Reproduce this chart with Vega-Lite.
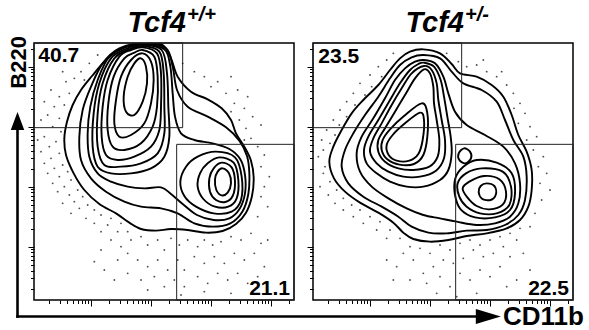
{
"$schema":"https://vega.github.io/schema/vega-lite/v6.json",
"background":"white",
"padding":{"left":7,"top":4,"right":0,"bottom":0},
"autosize":{"type":"pad"},
"data":{"values":[
{"t":"c","g":"+/+","k":"L1","i":0,"x":340,"y":792},{"t":"c","g":"+/+","k":"L1","i":1,"x":395,"y":785},{"t":"c","g":"+/+","k":"L1","i":2,"x":420,"y":745},{"t":"c","g":"+/+","k":"L1","i":3,"x":440,"y":690},{"t":"c","g":"+/+","k":"L1","i":4,"x":480,"y":645},{"t":"c","g":"+/+","k":"L1","i":5,"x":530,"y":622},{"t":"c","g":"+/+","k":"L1","i":6,"x":572,"y":595},{"t":"c","g":"+/+","k":"L1","i":7,"x":600,"y":560},{"t":"c","g":"+/+","k":"L1","i":8,"x":615,"y":520},{"t":"c","g":"+/+","k":"L1","i":9,"x":640,"y":480},{"t":"c","g":"+/+","k":"L1","i":10,"x":660,"y":438},{"t":"c","g":"+/+","k":"L1","i":11,"x":668,"y":388},{"t":"c","g":"+/+","k":"L1","i":12,"x":663,"y":332},{"t":"c","g":"+/+","k":"L1","i":13,"x":645,"y":282},{"t":"c","g":"+/+","k":"L1","i":14,"x":615,"y":248},{"t":"c","g":"+/+","k":"L1","i":15,"x":575,"y":227},{"t":"c","g":"+/+","k":"L1","i":16,"x":525,"y":222},{"t":"c","g":"+/+","k":"L1","i":17,"x":470,"y":230},{"t":"c","g":"+/+","k":"L1","i":18,"x":420,"y":233},{"t":"c","g":"+/+","k":"L1","i":19,"x":375,"y":228},{"t":"c","g":"+/+","k":"L1","i":20,"x":330,"y":233},{"t":"c","g":"+/+","k":"L1","i":21,"x":295,"y":252},{"t":"c","g":"+/+","k":"L1","i":22,"x":255,"y":280},{"t":"c","g":"+/+","k":"L1","i":23,"x":205,"y":308},{"t":"c","g":"+/+","k":"L1","i":24,"x":160,"y":350},{"t":"c","g":"+/+","k":"L1","i":25,"x":128,"y":400},{"t":"c","g":"+/+","k":"L1","i":26,"x":105,"y":455},{"t":"c","g":"+/+","k":"L1","i":27,"x":100,"y":505},{"t":"c","g":"+/+","k":"L1","i":28,"x":108,"y":555},{"t":"c","g":"+/+","k":"L1","i":29,"x":125,"y":605},{"t":"c","g":"+/+","k":"L1","i":30,"x":150,"y":650},{"t":"c","g":"+/+","k":"L1","i":31,"x":183,"y":692},{"t":"c","g":"+/+","k":"L1","i":32,"x":220,"y":735},{"t":"c","g":"+/+","k":"L1","i":33,"x":265,"y":772},{"t":"c","g":"+/+","k":"L1","i":34,"x":310,"y":788},
{"t":"c","g":"+/+","k":"L2","i":0,"x":335,"y":790},{"t":"c","g":"+/+","k":"L2","i":1,"x":405,"y":775},{"t":"c","g":"+/+","k":"L2","i":2,"x":425,"y":720},{"t":"c","g":"+/+","k":"L2","i":3,"x":438,"y":650},{"t":"c","g":"+/+","k":"L2","i":4,"x":470,"y":600},{"t":"c","g":"+/+","k":"L2","i":5,"x":530,"y":570},{"t":"c","g":"+/+","k":"L2","i":6,"x":585,"y":538},{"t":"c","g":"+/+","k":"L2","i":7,"x":625,"y":498},{"t":"c","g":"+/+","k":"L2","i":8,"x":648,"y":452},{"t":"c","g":"+/+","k":"L2","i":9,"x":655,"y":400},{"t":"c","g":"+/+","k":"L2","i":10,"x":652,"y":338},{"t":"c","g":"+/+","k":"L2","i":11,"x":634,"y":285},{"t":"c","g":"+/+","k":"L2","i":12,"x":598,"y":250},{"t":"c","g":"+/+","k":"L2","i":13,"x":545,"y":240},{"t":"c","g":"+/+","k":"L2","i":14,"x":490,"y":250},{"t":"c","g":"+/+","k":"L2","i":15,"x":440,"y":280},{"t":"c","g":"+/+","k":"L2","i":16,"x":390,"y":295},{"t":"c","g":"+/+","k":"L2","i":17,"x":330,"y":300},{"t":"c","g":"+/+","k":"L2","i":18,"x":280,"y":315},{"t":"c","g":"+/+","k":"L2","i":19,"x":225,"y":345},{"t":"c","g":"+/+","k":"L2","i":20,"x":180,"y":385},{"t":"c","g":"+/+","k":"L2","i":21,"x":150,"y":440},{"t":"c","g":"+/+","k":"L2","i":22,"x":145,"y":510},{"t":"c","g":"+/+","k":"L2","i":23,"x":155,"y":590},{"t":"c","g":"+/+","k":"L2","i":24,"x":180,"y":660},{"t":"c","g":"+/+","k":"L2","i":25,"x":215,"y":730},{"t":"c","g":"+/+","k":"L2","i":26,"x":265,"y":775},
{"t":"c","g":"+/+","k":"L3","i":0,"x":335,"y":788},{"t":"c","g":"+/+","k":"L3","i":1,"x":400,"y":772},{"t":"c","g":"+/+","k":"L3","i":2,"x":418,"y":720},{"t":"c","g":"+/+","k":"L3","i":3,"x":425,"y":640},{"t":"c","g":"+/+","k":"L3","i":4,"x":432,"y":570},{"t":"c","g":"+/+","k":"L3","i":5,"x":450,"y":520},{"t":"c","g":"+/+","k":"L3","i":6,"x":490,"y":500},{"t":"c","g":"+/+","k":"L3","i":7,"x":545,"y":490},{"t":"c","g":"+/+","k":"L3","i":8,"x":595,"y":473},{"t":"c","g":"+/+","k":"L3","i":9,"x":628,"y":442},{"t":"c","g":"+/+","k":"L3","i":10,"x":642,"y":395},{"t":"c","g":"+/+","k":"L3","i":11,"x":642,"y":340},{"t":"c","g":"+/+","k":"L3","i":12,"x":625,"y":292},{"t":"c","g":"+/+","k":"L3","i":13,"x":595,"y":265},{"t":"c","g":"+/+","k":"L3","i":14,"x":548,"y":260},{"t":"c","g":"+/+","k":"L3","i":15,"x":498,"y":275},{"t":"c","g":"+/+","k":"L3","i":16,"x":455,"y":308},{"t":"c","g":"+/+","k":"L3","i":17,"x":420,"y":338},{"t":"c","g":"+/+","k":"L3","i":18,"x":390,"y":358},{"t":"c","g":"+/+","k":"L3","i":19,"x":340,"y":355},{"t":"c","g":"+/+","k":"L3","i":20,"x":290,"y":360},{"t":"c","g":"+/+","k":"L3","i":21,"x":240,"y":375},{"t":"c","g":"+/+","k":"L3","i":22,"x":200,"y":400},{"t":"c","g":"+/+","k":"L3","i":23,"x":175,"y":450},{"t":"c","g":"+/+","k":"L3","i":24,"x":170,"y":520},{"t":"c","g":"+/+","k":"L3","i":25,"x":178,"y":600},{"t":"c","g":"+/+","k":"L3","i":26,"x":200,"y":680},{"t":"c","g":"+/+","k":"L3","i":27,"x":235,"y":750},{"t":"c","g":"+/+","k":"L3","i":28,"x":290,"y":780},
{"t":"c","g":"+/+","k":"F","i":0,"x":335,"y":786},{"t":"c","g":"+/+","k":"F","i":1,"x":392,"y":770},{"t":"c","g":"+/+","k":"F","i":2,"x":408,"y":700},{"t":"c","g":"+/+","k":"F","i":3,"x":412,"y":600},{"t":"c","g":"+/+","k":"F","i":4,"x":415,"y":510},{"t":"c","g":"+/+","k":"F","i":5,"x":400,"y":450},{"t":"c","g":"+/+","k":"F","i":6,"x":360,"y":415},{"t":"c","g":"+/+","k":"F","i":7,"x":300,"y":400},{"t":"c","g":"+/+","k":"F","i":8,"x":240,"y":400},{"t":"c","g":"+/+","k":"F","i":9,"x":200,"y":420},{"t":"c","g":"+/+","k":"F","i":10,"x":185,"y":480},{"t":"c","g":"+/+","k":"F","i":11,"x":188,"y":580},{"t":"c","g":"+/+","k":"F","i":12,"x":205,"y":670},{"t":"c","g":"+/+","k":"F","i":13,"x":240,"y":745},{"t":"c","g":"+/+","k":"F","i":14,"x":290,"y":775},
{"t":"c","g":"+/+","k":"E","i":0,"x":335,"y":782},{"t":"c","g":"+/+","k":"E","i":1,"x":385,"y":765},{"t":"c","g":"+/+","k":"E","i":2,"x":398,"y":700},{"t":"c","g":"+/+","k":"E","i":3,"x":400,"y":600},{"t":"c","g":"+/+","k":"E","i":4,"x":400,"y":520},{"t":"c","g":"+/+","k":"E","i":5,"x":380,"y":460},{"t":"c","g":"+/+","k":"E","i":6,"x":330,"y":430},{"t":"c","g":"+/+","k":"E","i":7,"x":270,"y":420},{"t":"c","g":"+/+","k":"E","i":8,"x":220,"y":425},{"t":"c","g":"+/+","k":"E","i":9,"x":200,"y":480},{"t":"c","g":"+/+","k":"E","i":10,"x":200,"y":580},{"t":"c","g":"+/+","k":"E","i":11,"x":215,"y":670},{"t":"c","g":"+/+","k":"E","i":12,"x":250,"y":745},{"t":"c","g":"+/+","k":"E","i":13,"x":295,"y":772},
{"t":"c","g":"+/+","k":"D","i":0,"x":335,"y":778},{"t":"c","g":"+/+","k":"D","i":1,"x":378,"y":760},{"t":"c","g":"+/+","k":"D","i":2,"x":390,"y":700},{"t":"c","g":"+/+","k":"D","i":3,"x":390,"y":600},{"t":"c","g":"+/+","k":"D","i":4,"x":385,"y":530},{"t":"c","g":"+/+","k":"D","i":5,"x":360,"y":480},{"t":"c","g":"+/+","k":"D","i":6,"x":310,"y":450},{"t":"c","g":"+/+","k":"D","i":7,"x":260,"y":440},{"t":"c","g":"+/+","k":"D","i":8,"x":225,"y":455},{"t":"c","g":"+/+","k":"D","i":9,"x":212,"y":510},{"t":"c","g":"+/+","k":"D","i":10,"x":215,"y":600},{"t":"c","g":"+/+","k":"D","i":11,"x":230,"y":680},{"t":"c","g":"+/+","k":"D","i":12,"x":265,"y":750},{"t":"c","g":"+/+","k":"D","i":13,"x":300,"y":770},
{"t":"c","g":"+/+","k":"C","i":0,"x":335,"y":770},{"t":"c","g":"+/+","k":"C","i":1,"x":370,"y":750},{"t":"c","g":"+/+","k":"C","i":2,"x":380,"y":690},{"t":"c","g":"+/+","k":"C","i":3,"x":378,"y":600},{"t":"c","g":"+/+","k":"C","i":4,"x":365,"y":540},{"t":"c","g":"+/+","k":"C","i":5,"x":330,"y":490},{"t":"c","g":"+/+","k":"C","i":6,"x":280,"y":470},{"t":"c","g":"+/+","k":"C","i":7,"x":245,"y":480},{"t":"c","g":"+/+","k":"C","i":8,"x":230,"y":530},{"t":"c","g":"+/+","k":"C","i":9,"x":232,"y":610},{"t":"c","g":"+/+","k":"C","i":10,"x":248,"y":690},{"t":"c","g":"+/+","k":"C","i":11,"x":280,"y":745},{"t":"c","g":"+/+","k":"C","i":12,"x":310,"y":762},
{"t":"c","g":"+/+","k":"B","i":0,"x":335,"y":760},{"t":"c","g":"+/+","k":"B","i":1,"x":360,"y":735},{"t":"c","g":"+/+","k":"B","i":2,"x":368,"y":680},{"t":"c","g":"+/+","k":"B","i":3,"x":360,"y":610},{"t":"c","g":"+/+","k":"B","i":4,"x":340,"y":550},{"t":"c","g":"+/+","k":"B","i":5,"x":300,"y":515},{"t":"c","g":"+/+","k":"B","i":6,"x":265,"y":510},{"t":"c","g":"+/+","k":"B","i":7,"x":250,"y":550},{"t":"c","g":"+/+","k":"B","i":8,"x":255,"y":620},{"t":"c","g":"+/+","k":"B","i":9,"x":270,"y":690},{"t":"c","g":"+/+","k":"B","i":10,"x":300,"y":740},
{"t":"c","g":"+/+","k":"A","i":0,"x":330,"y":745},{"t":"c","g":"+/+","k":"A","i":1,"x":345,"y":720},{"t":"c","g":"+/+","k":"A","i":2,"x":348,"y":670},{"t":"c","g":"+/+","k":"A","i":3,"x":335,"y":615},{"t":"c","g":"+/+","k":"A","i":4,"x":310,"y":575},{"t":"c","g":"+/+","k":"A","i":5,"x":285,"y":585},{"t":"c","g":"+/+","k":"A","i":6,"x":278,"y":630},{"t":"c","g":"+/+","k":"A","i":7,"x":290,"y":690},{"t":"c","g":"+/+","k":"A","i":8,"x":310,"y":730},
{"t":"c","g":"+/+","k":"pa","i":0,"x":575,"y":415},{"t":"c","g":"+/+","k":"pa","i":1,"x":594,"y":400},{"t":"c","g":"+/+","k":"pa","i":2,"x":600,"y":370},{"t":"c","g":"+/+","k":"pa","i":3,"x":590,"y":342},{"t":"c","g":"+/+","k":"pa","i":4,"x":572,"y":334},{"t":"c","g":"+/+","k":"pa","i":5,"x":556,"y":350},{"t":"c","g":"+/+","k":"pa","i":6,"x":552,"y":382},{"t":"c","g":"+/+","k":"pa","i":7,"x":560,"y":405},
{"t":"c","g":"+/+","k":"pb","i":0,"x":572,"y":432},{"t":"c","g":"+/+","k":"pb","i":1,"x":602,"y":418},{"t":"c","g":"+/+","k":"pb","i":2,"x":612,"y":375},{"t":"c","g":"+/+","k":"pb","i":3,"x":605,"y":332},{"t":"c","g":"+/+","k":"pb","i":4,"x":583,"y":314},{"t":"c","g":"+/+","k":"pb","i":5,"x":555,"y":320},{"t":"c","g":"+/+","k":"pb","i":6,"x":537,"y":345},{"t":"c","g":"+/+","k":"pb","i":7,"x":535,"y":385},{"t":"c","g":"+/+","k":"pb","i":8,"x":548,"y":415},
{"t":"c","g":"+/+","k":"pc","i":0,"x":565,"y":448},{"t":"c","g":"+/+","k":"pc","i":1,"x":608,"y":432},{"t":"c","g":"+/+","k":"pc","i":2,"x":622,"y":380},{"t":"c","g":"+/+","k":"pc","i":3,"x":617,"y":325},{"t":"c","g":"+/+","k":"pc","i":4,"x":592,"y":300},{"t":"c","g":"+/+","k":"pc","i":5,"x":552,"y":300},{"t":"c","g":"+/+","k":"pc","i":6,"x":517,"y":323},{"t":"c","g":"+/+","k":"pc","i":7,"x":500,"y":360},{"t":"c","g":"+/+","k":"pc","i":8,"x":507,"y":400},{"t":"c","g":"+/+","k":"pc","i":9,"x":530,"y":430},
{"t":"c","g":"+/+","k":"pd","i":0,"x":555,"y":465},{"t":"c","g":"+/+","k":"pd","i":1,"x":612,"y":448},{"t":"c","g":"+/+","k":"pd","i":2,"x":632,"y":390},{"t":"c","g":"+/+","k":"pd","i":3,"x":630,"y":320},{"t":"c","g":"+/+","k":"pd","i":4,"x":602,"y":285},{"t":"c","g":"+/+","k":"pd","i":5,"x":548,"y":280},{"t":"c","g":"+/+","k":"pd","i":6,"x":495,"y":300},{"t":"c","g":"+/+","k":"pd","i":7,"x":460,"y":332},{"t":"c","g":"+/+","k":"pd","i":8,"x":448,"y":375},{"t":"c","g":"+/+","k":"pd","i":9,"x":465,"y":420},{"t":"c","g":"+/+","k":"pd","i":10,"x":500,"y":450},
{"t":"c","g":"+/-","k":"L1","i":0,"x":340,"y":772},{"t":"c","g":"+/-","k":"L1","i":1,"x":390,"y":760},{"t":"c","g":"+/-","k":"L1","i":2,"x":425,"y":728},{"t":"c","g":"+/-","k":"L1","i":3,"x":450,"y":700},{"t":"c","g":"+/-","k":"L1","i":4,"x":500,"y":690},{"t":"c","g":"+/-","k":"L1","i":5,"x":545,"y":665},{"t":"c","g":"+/-","k":"L1","i":6,"x":580,"y":630},{"t":"c","g":"+/-","k":"L1","i":7,"x":605,"y":575},{"t":"c","g":"+/-","k":"L1","i":8,"x":625,"y":515},{"t":"c","g":"+/-","k":"L1","i":9,"x":650,"y":465},{"t":"c","g":"+/-","k":"L1","i":10,"x":665,"y":410},{"t":"c","g":"+/-","k":"L1","i":11,"x":665,"y":350},{"t":"c","g":"+/-","k":"L1","i":12,"x":655,"y":300},{"t":"c","g":"+/-","k":"L1","i":13,"x":630,"y":260},{"t":"c","g":"+/-","k":"L1","i":14,"x":590,"y":235},{"t":"c","g":"+/-","k":"L1","i":15,"x":530,"y":220},{"t":"c","g":"+/-","k":"L1","i":16,"x":470,"y":212},{"t":"c","g":"+/-","k":"L1","i":17,"x":415,"y":200},{"t":"c","g":"+/-","k":"L1","i":18,"x":360,"y":195},{"t":"c","g":"+/-","k":"L1","i":19,"x":310,"y":203},{"t":"c","g":"+/-","k":"L1","i":20,"x":280,"y":222},{"t":"c","g":"+/-","k":"L1","i":21,"x":250,"y":252},{"t":"c","g":"+/-","k":"L1","i":22,"x":205,"y":282},{"t":"c","g":"+/-","k":"L1","i":23,"x":150,"y":312},{"t":"c","g":"+/-","k":"L1","i":24,"x":105,"y":345},{"t":"c","g":"+/-","k":"L1","i":25,"x":72,"y":385},{"t":"c","g":"+/-","k":"L1","i":26,"x":58,"y":435},{"t":"c","g":"+/-","k":"L1","i":27,"x":70,"y":480},{"t":"c","g":"+/-","k":"L1","i":28,"x":95,"y":530},{"t":"c","g":"+/-","k":"L1","i":29,"x":125,"y":580},{"t":"c","g":"+/-","k":"L1","i":30,"x":160,"y":620},{"t":"c","g":"+/-","k":"L1","i":31,"x":205,"y":665},{"t":"c","g":"+/-","k":"L1","i":32,"x":240,"y":710},{"t":"c","g":"+/-","k":"L1","i":33,"x":270,"y":745},{"t":"c","g":"+/-","k":"L1","i":34,"x":300,"y":765},
{"t":"c","g":"+/-","k":"L2","i":0,"x":340,"y":755},{"t":"c","g":"+/-","k":"L2","i":1,"x":390,"y":745},{"t":"c","g":"+/-","k":"L2","i":2,"x":425,"y":705},{"t":"c","g":"+/-","k":"L2","i":3,"x":460,"y":670},{"t":"c","g":"+/-","k":"L2","i":4,"x":515,"y":650},{"t":"c","g":"+/-","k":"L2","i":5,"x":560,"y":615},{"t":"c","g":"+/-","k":"L2","i":6,"x":585,"y":560},{"t":"c","g":"+/-","k":"L2","i":7,"x":610,"y":500},{"t":"c","g":"+/-","k":"L2","i":8,"x":640,"y":450},{"t":"c","g":"+/-","k":"L2","i":9,"x":650,"y":390},{"t":"c","g":"+/-","k":"L2","i":10,"x":645,"y":320},{"t":"c","g":"+/-","k":"L2","i":11,"x":625,"y":275},{"t":"c","g":"+/-","k":"L2","i":12,"x":585,"y":245},{"t":"c","g":"+/-","k":"L2","i":13,"x":530,"y":230},{"t":"c","g":"+/-","k":"L2","i":14,"x":470,"y":228},{"t":"c","g":"+/-","k":"L2","i":15,"x":410,"y":220},{"t":"c","g":"+/-","k":"L2","i":16,"x":355,"y":222},{"t":"c","g":"+/-","k":"L2","i":17,"x":305,"y":240},{"t":"c","g":"+/-","k":"L2","i":18,"x":265,"y":270},{"t":"c","g":"+/-","k":"L2","i":19,"x":215,"y":300},{"t":"c","g":"+/-","k":"L2","i":20,"x":160,"y":330},{"t":"c","g":"+/-","k":"L2","i":21,"x":115,"y":370},{"t":"c","g":"+/-","k":"L2","i":22,"x":95,"y":420},{"t":"c","g":"+/-","k":"L2","i":23,"x":105,"y":470},{"t":"c","g":"+/-","k":"L2","i":24,"x":130,"y":520},{"t":"c","g":"+/-","k":"L2","i":25,"x":165,"y":575},{"t":"c","g":"+/-","k":"L2","i":26,"x":205,"y":630},{"t":"c","g":"+/-","k":"L2","i":27,"x":240,"y":685},{"t":"c","g":"+/-","k":"L2","i":28,"x":270,"y":725},{"t":"c","g":"+/-","k":"L2","i":29,"x":305,"y":748},
{"t":"c","g":"+/-","k":"L3","i":0,"x":340,"y":740},{"t":"c","g":"+/-","k":"L3","i":1,"x":375,"y":730},{"t":"c","g":"+/-","k":"L3","i":2,"x":400,"y":690},{"t":"c","g":"+/-","k":"L3","i":3,"x":415,"y":640},{"t":"c","g":"+/-","k":"L3","i":4,"x":435,"y":585},{"t":"c","g":"+/-","k":"L3","i":5,"x":470,"y":545},{"t":"c","g":"+/-","k":"L3","i":6,"x":525,"y":515},{"t":"c","g":"+/-","k":"L3","i":7,"x":580,"y":480},{"t":"c","g":"+/-","k":"L3","i":8,"x":615,"y":430},{"t":"c","g":"+/-","k":"L3","i":9,"x":630,"y":370},{"t":"c","g":"+/-","k":"L3","i":10,"x":625,"y":310},{"t":"c","g":"+/-","k":"L3","i":11,"x":600,"y":270},{"t":"c","g":"+/-","k":"L3","i":12,"x":555,"y":250},{"t":"c","g":"+/-","k":"L3","i":13,"x":500,"y":245},{"t":"c","g":"+/-","k":"L3","i":14,"x":440,"y":255},{"t":"c","g":"+/-","k":"L3","i":15,"x":390,"y":265},{"t":"c","g":"+/-","k":"L3","i":16,"x":340,"y":275},{"t":"c","g":"+/-","k":"L3","i":17,"x":290,"y":295},{"t":"c","g":"+/-","k":"L3","i":18,"x":235,"y":325},{"t":"c","g":"+/-","k":"L3","i":19,"x":185,"y":360},{"t":"c","g":"+/-","k":"L3","i":20,"x":150,"y":405},{"t":"c","g":"+/-","k":"L3","i":21,"x":140,"y":460},{"t":"c","g":"+/-","k":"L3","i":22,"x":155,"y":510},{"t":"c","g":"+/-","k":"L3","i":23,"x":190,"y":565},{"t":"c","g":"+/-","k":"L3","i":24,"x":225,"y":625},{"t":"c","g":"+/-","k":"L3","i":25,"x":255,"y":680},{"t":"c","g":"+/-","k":"L3","i":26,"x":285,"y":715},{"t":"c","g":"+/-","k":"L3","i":27,"x":315,"y":735},
{"t":"c","g":"+/-","k":"L4","i":0,"x":342,"y":732},{"t":"c","g":"+/-","k":"L4","i":1,"x":372,"y":720},{"t":"c","g":"+/-","k":"L4","i":2,"x":392,"y":680},{"t":"c","g":"+/-","k":"L4","i":3,"x":402,"y":630},{"t":"c","g":"+/-","k":"L4","i":4,"x":412,"y":570},{"t":"c","g":"+/-","k":"L4","i":5,"x":422,"y":510},{"t":"c","g":"+/-","k":"L4","i":6,"x":425,"y":460},{"t":"c","g":"+/-","k":"L4","i":7,"x":415,"y":410},{"t":"c","g":"+/-","k":"L4","i":8,"x":390,"y":380},{"t":"c","g":"+/-","k":"L4","i":9,"x":340,"y":360},{"t":"c","g":"+/-","k":"L4","i":10,"x":290,"y":360},{"t":"c","g":"+/-","k":"L4","i":11,"x":240,"y":375},{"t":"c","g":"+/-","k":"L4","i":12,"x":200,"y":400},{"t":"c","g":"+/-","k":"L4","i":13,"x":170,"y":430},{"t":"c","g":"+/-","k":"L4","i":14,"x":162,"y":470},{"t":"c","g":"+/-","k":"L4","i":15,"x":175,"y":510},{"t":"c","g":"+/-","k":"L4","i":16,"x":205,"y":560},{"t":"c","g":"+/-","k":"L4","i":17,"x":240,"y":620},{"t":"c","g":"+/-","k":"L4","i":18,"x":270,"y":670},{"t":"c","g":"+/-","k":"L4","i":19,"x":300,"y":710},{"t":"c","g":"+/-","k":"L4","i":20,"x":325,"y":728},
{"t":"c","g":"+/-","k":"L5","i":0,"x":342,"y":722},{"t":"c","g":"+/-","k":"L5","i":1,"x":365,"y":710},{"t":"c","g":"+/-","k":"L5","i":2,"x":380,"y":670},{"t":"c","g":"+/-","k":"L5","i":3,"x":385,"y":620},{"t":"c","g":"+/-","k":"L5","i":4,"x":395,"y":560},{"t":"c","g":"+/-","k":"L5","i":5,"x":405,"y":500},{"t":"c","g":"+/-","k":"L5","i":6,"x":402,"y":445},{"t":"c","g":"+/-","k":"L5","i":7,"x":378,"y":408},{"t":"c","g":"+/-","k":"L5","i":8,"x":330,"y":390},{"t":"c","g":"+/-","k":"L5","i":9,"x":280,"y":390},{"t":"c","g":"+/-","k":"L5","i":10,"x":235,"y":405},{"t":"c","g":"+/-","k":"L5","i":11,"x":200,"y":430},{"t":"c","g":"+/-","k":"L5","i":12,"x":180,"y":465},{"t":"c","g":"+/-","k":"L5","i":13,"x":190,"y":505},{"t":"c","g":"+/-","k":"L5","i":14,"x":215,"y":550},{"t":"c","g":"+/-","k":"L5","i":15,"x":245,"y":605},{"t":"c","g":"+/-","k":"L5","i":16,"x":275,"y":655},{"t":"c","g":"+/-","k":"L5","i":17,"x":305,"y":700},
{"t":"c","g":"+/-","k":"L6","i":0,"x":342,"y":712},{"t":"c","g":"+/-","k":"L6","i":1,"x":360,"y":700},{"t":"c","g":"+/-","k":"L6","i":2,"x":370,"y":660},{"t":"c","g":"+/-","k":"L6","i":3,"x":372,"y":610},{"t":"c","g":"+/-","k":"L6","i":4,"x":380,"y":560},{"t":"c","g":"+/-","k":"L6","i":5,"x":388,"y":500},{"t":"c","g":"+/-","k":"L6","i":6,"x":383,"y":450},{"t":"c","g":"+/-","k":"L6","i":7,"x":358,"y":420},{"t":"c","g":"+/-","k":"L6","i":8,"x":310,"y":410},{"t":"c","g":"+/-","k":"L6","i":9,"x":265,"y":415},{"t":"c","g":"+/-","k":"L6","i":10,"x":225,"y":435},{"t":"c","g":"+/-","k":"L6","i":11,"x":205,"y":465},{"t":"c","g":"+/-","k":"L6","i":12,"x":205,"y":500},{"t":"c","g":"+/-","k":"L6","i":13,"x":225,"y":535},{"t":"c","g":"+/-","k":"L6","i":14,"x":255,"y":585},{"t":"c","g":"+/-","k":"L6","i":15,"x":285,"y":635},{"t":"c","g":"+/-","k":"L6","i":16,"x":315,"y":685},
{"t":"c","g":"+/-","k":"r2","i":0,"x":335,"y":610},{"t":"c","g":"+/-","k":"r2","i":1,"x":352,"y":580},{"t":"c","g":"+/-","k":"r2","i":2,"x":352,"y":510},{"t":"c","g":"+/-","k":"r2","i":3,"x":340,"y":455},{"t":"c","g":"+/-","k":"r2","i":4,"x":312,"y":428},{"t":"c","g":"+/-","k":"r2","i":5,"x":268,"y":426},{"t":"c","g":"+/-","k":"r2","i":6,"x":232,"y":442},{"t":"c","g":"+/-","k":"r2","i":7,"x":215,"y":470},{"t":"c","g":"+/-","k":"r2","i":8,"x":218,"y":500},{"t":"c","g":"+/-","k":"r2","i":9,"x":240,"y":532},{"t":"c","g":"+/-","k":"r2","i":10,"x":282,"y":572},
{"t":"c","g":"+/-","k":"r1","i":0,"x":330,"y":582},{"t":"c","g":"+/-","k":"r1","i":1,"x":342,"y":560},{"t":"c","g":"+/-","k":"r1","i":2,"x":338,"y":500},{"t":"c","g":"+/-","k":"r1","i":3,"x":325,"y":458},{"t":"c","g":"+/-","k":"r1","i":4,"x":298,"y":438},{"t":"c","g":"+/-","k":"r1","i":5,"x":260,"y":438},{"t":"c","g":"+/-","k":"r1","i":6,"x":236,"y":455},{"t":"c","g":"+/-","k":"r1","i":7,"x":230,"y":485},{"t":"c","g":"+/-","k":"r1","i":8,"x":248,"y":515},{"t":"c","g":"+/-","k":"r1","i":9,"x":285,"y":550},
{"t":"c","g":"+/-","k":"s1","i":0,"x":530,"y":370},{"t":"c","g":"+/-","k":"s1","i":1,"x":553,"y":362},{"t":"c","g":"+/-","k":"s1","i":2,"x":558,"y":338},{"t":"c","g":"+/-","k":"s1","i":3,"x":542,"y":320},{"t":"c","g":"+/-","k":"s1","i":4,"x":516,"y":324},{"t":"c","g":"+/-","k":"s1","i":5,"x":506,"y":344},{"t":"c","g":"+/-","k":"s1","i":6,"x":512,"y":362},
{"t":"c","g":"+/-","k":"s2","i":0,"x":522,"y":392},{"t":"c","g":"+/-","k":"s2","i":1,"x":568,"y":382},{"t":"c","g":"+/-","k":"s2","i":2,"x":588,"y":345},{"t":"c","g":"+/-","k":"s2","i":3,"x":578,"y":306},{"t":"c","g":"+/-","k":"s2","i":4,"x":538,"y":292},{"t":"c","g":"+/-","k":"s2","i":5,"x":500,"y":302},{"t":"c","g":"+/-","k":"s2","i":6,"x":472,"y":328},{"t":"c","g":"+/-","k":"s2","i":7,"x":458,"y":355},{"t":"c","g":"+/-","k":"s2","i":8,"x":478,"y":375},
{"t":"c","g":"+/-","k":"s3","i":0,"x":515,"y":415},{"t":"c","g":"+/-","k":"s3","i":1,"x":578,"y":405},{"t":"c","g":"+/-","k":"s3","i":2,"x":603,"y":360},{"t":"c","g":"+/-","k":"s3","i":3,"x":598,"y":305},{"t":"c","g":"+/-","k":"s3","i":4,"x":560,"y":280},{"t":"c","g":"+/-","k":"s3","i":5,"x":510,"y":280},{"t":"c","g":"+/-","k":"s3","i":6,"x":470,"y":300},{"t":"c","g":"+/-","k":"s3","i":7,"x":448,"y":330},{"t":"c","g":"+/-","k":"s3","i":8,"x":443,"y":370},{"t":"c","g":"+/-","k":"s3","i":9,"x":468,"y":400},
{"t":"c","g":"+/-","k":"s4","i":0,"x":500,"y":440},{"t":"c","g":"+/-","k":"s4","i":1,"x":560,"y":432},{"t":"c","g":"+/-","k":"s4","i":2,"x":605,"y":400},{"t":"c","g":"+/-","k":"s4","i":3,"x":615,"y":340},{"t":"c","g":"+/-","k":"s4","i":4,"x":600,"y":290},{"t":"c","g":"+/-","k":"s4","i":5,"x":555,"y":268},{"t":"c","g":"+/-","k":"s4","i":6,"x":495,"y":268},{"t":"c","g":"+/-","k":"s4","i":7,"x":452,"y":292},{"t":"c","g":"+/-","k":"s4","i":8,"x":435,"y":335},{"t":"c","g":"+/-","k":"s4","i":9,"x":436,"y":385},{"t":"c","g":"+/-","k":"s4","i":10,"x":460,"y":420},
{"t":"c","g":"+/-","k":"t1","i":0,"x":462,"y":475},{"t":"c","g":"+/-","k":"t1","i":1,"x":480,"y":465},{"t":"c","g":"+/-","k":"t1","i":2,"x":483,"y":445},{"t":"c","g":"+/-","k":"t1","i":3,"x":466,"y":430},{"t":"c","g":"+/-","k":"t1","i":4,"x":448,"y":440},{"t":"c","g":"+/-","k":"t1","i":5,"x":446,"y":460},
{"t":"d","g":"+/+","x":200,"y":755},{"t":"d","g":"+/+","x":175,"y":730},{"t":"d","g":"+/+","x":150,"y":705},{"t":"d","g":"+/+","x":95,"y":705},{"t":"d","g":"+/+","x":130,"y":685},{"t":"d","g":"+/+","x":105,"y":675},{"t":"d","g":"+/+","x":160,"y":680},{"t":"d","g":"+/+","x":60,"y":650},{"t":"d","g":"+/+","x":115,"y":640},{"t":"d","g":"+/+","x":85,"y":630},{"t":"d","g":"+/+","x":40,"y":615},{"t":"d","g":"+/+","x":70,"y":600},{"t":"d","g":"+/+","x":100,"y":605},{"t":"d","g":"+/+","x":50,"y":575},{"t":"d","g":"+/+","x":85,"y":565},{"t":"d","g":"+/+","x":30,"y":560},{"t":"d","g":"+/+","x":65,"y":540},{"t":"d","g":"+/+","x":90,"y":525},{"t":"d","g":"+/+","x":40,"y":510},{"t":"d","g":"+/+","x":20,"y":500},{"t":"d","g":"+/+","x":75,"y":495},{"t":"d","g":"+/+","x":55,"y":480},{"t":"d","g":"+/+","x":30,"y":465},{"t":"d","g":"+/+","x":85,"y":460},{"t":"d","g":"+/+","x":60,"y":445},{"t":"d","g":"+/+","x":40,"y":430},{"t":"d","g":"+/+","x":95,"y":425},{"t":"d","g":"+/+","x":70,"y":415},{"t":"d","g":"+/+","x":110,"y":405},{"t":"d","g":"+/+","x":50,"y":400},{"t":"d","g":"+/+","x":85,"y":390},{"t":"d","g":"+/+","x":120,"y":380},{"t":"d","g":"+/+","x":65,"y":370},{"t":"d","g":"+/+","x":100,"y":360},{"t":"d","g":"+/+","x":140,"y":350},{"t":"d","g":"+/+","x":80,"y":345},{"t":"d","g":"+/+","x":115,"y":335},{"t":"d","g":"+/+","x":155,"y":330},{"t":"d","g":"+/+","x":130,"y":315},{"t":"d","g":"+/+","x":95,"y":310},{"t":"d","g":"+/+","x":170,"y":305},{"t":"d","g":"+/+","x":145,"y":295},{"t":"d","g":"+/+","x":190,"y":290},{"t":"d","g":"+/+","x":120,"y":280},{"t":"d","g":"+/+","x":210,"y":275},{"t":"d","g":"+/+","x":165,"y":265},{"t":"d","g":"+/+","x":240,"y":265},{"t":"d","g":"+/+","x":190,"y":250},{"t":"d","g":"+/+","x":230,"y":245},{"t":"d","g":"+/+","x":270,"y":250},{"t":"d","g":"+/+","x":210,"y":225},{"t":"d","g":"+/+","x":260,"y":225},{"t":"d","g":"+/+","x":290,"y":225},
{"t":"d","g":"+/+","x":455,"y":730},{"t":"d","g":"+/+","x":490,"y":705},{"t":"d","g":"+/+","x":520,"y":690},{"t":"d","g":"+/+","x":560,"y":675},{"t":"d","g":"+/+","x":540,"y":660},{"t":"d","g":"+/+","x":600,"y":690},{"t":"d","g":"+/+","x":620,"y":650},{"t":"d","g":"+/+","x":585,"y":640},{"t":"d","g":"+/+","x":650,"y":630},{"t":"d","g":"+/+","x":610,"y":610},{"t":"d","g":"+/+","x":640,"y":595},{"t":"d","g":"+/+","x":600,"y":585},{"t":"d","g":"+/+","x":625,"y":560},{"t":"d","g":"+/+","x":665,"y":570},{"t":"d","g":"+/+","x":645,"y":535},{"t":"d","g":"+/+","x":690,"y":545},{"t":"d","g":"+/+","x":660,"y":505},{"t":"d","g":"+/+","x":640,"y":500},{"t":"d","g":"+/+","x":680,"y":480},{"t":"d","g":"+/+","x":700,"y":455},{"t":"d","g":"+/+","x":690,"y":420},{"t":"d","g":"+/+","x":715,"y":390},{"t":"d","g":"+/+","x":700,"y":360},{"t":"d","g":"+/+","x":690,"y":330},{"t":"d","g":"+/+","x":710,"y":300},{"t":"d","g":"+/+","x":680,"y":270},
{"t":"d","g":"+/+","x":300,"y":200},{"t":"d","g":"+/+","x":330,"y":210},{"t":"d","g":"+/+","x":350,"y":185},{"t":"d","g":"+/+","x":380,"y":200},{"t":"d","g":"+/+","x":400,"y":170},{"t":"d","g":"+/+","x":420,"y":205},{"t":"d","g":"+/+","x":445,"y":185},{"t":"d","g":"+/+","x":470,"y":200},{"t":"d","g":"+/+","x":500,"y":180},{"t":"d","g":"+/+","x":520,"y":200},{"t":"d","g":"+/+","x":545,"y":185},{"t":"d","g":"+/+","x":570,"y":195},{"t":"d","g":"+/+","x":600,"y":210},{"t":"d","g":"+/+","x":630,"y":200},{"t":"d","g":"+/+","x":660,"y":220},{"t":"d","g":"+/+","x":690,"y":190},{"t":"d","g":"+/+","x":710,"y":200},{"t":"d","g":"+/+","x":270,"y":180},{"t":"d","g":"+/+","x":240,"y":200},{"t":"d","g":"+/+","x":210,"y":170},{"t":"d","g":"+/+","x":190,"y":135},{"t":"d","g":"+/+","x":260,"y":140},{"t":"d","g":"+/+","x":290,"y":160},{"t":"d","g":"+/+","x":320,"y":140},{"t":"d","g":"+/+","x":350,"y":120},{"t":"d","g":"+/+","x":380,"y":140},{"t":"d","g":"+/+","x":410,"y":110},{"t":"d","g":"+/+","x":440,"y":140},{"t":"d","g":"+/+","x":460,"y":110},{"t":"d","g":"+/+","x":490,"y":150},{"t":"d","g":"+/+","x":520,"y":130},{"t":"d","g":"+/+","x":550,"y":150},{"t":"d","g":"+/+","x":580,"y":130},{"t":"d","g":"+/+","x":610,"y":160},{"t":"d","g":"+/+","x":640,"y":140},{"t":"d","g":"+/+","x":670,"y":160},{"t":"d","g":"+/+","x":700,"y":120},{"t":"d","g":"+/+","x":290,"y":100},{"t":"d","g":"+/+","x":330,"y":80},{"t":"d","g":"+/+","x":370,"y":90},{"t":"d","g":"+/+","x":400,"y":60},{"t":"d","g":"+/+","x":430,"y":80},{"t":"d","g":"+/+","x":460,"y":60},{"t":"d","g":"+/+","x":500,"y":90},{"t":"d","g":"+/+","x":530,"y":70},{"t":"d","g":"+/+","x":560,"y":100},{"t":"d","g":"+/+","x":590,"y":80},{"t":"d","g":"+/+","x":620,"y":100},{"t":"d","g":"+/+","x":650,"y":70},{"t":"d","g":"+/+","x":680,"y":90},{"t":"d","g":"+/+","x":350,"y":50},{"t":"d","g":"+/+","x":450,"y":35},{"t":"d","g":"+/+","x":520,"y":45},{"t":"d","g":"+/+","x":600,"y":40},{"t":"d","g":"+/+","x":250,"y":80},{"t":"d","g":"+/+","x":220,"y":110},
{"t":"d","g":"+/-","x":230,"y":740},{"t":"d","g":"+/-","x":205,"y":720},{"t":"d","g":"+/-","x":250,"y":760},{"t":"d","g":"+/-","x":180,"y":695},{"t":"d","g":"+/-","x":215,"y":690},{"t":"d","g":"+/-","x":150,"y":670},{"t":"d","g":"+/-","x":185,"y":660},{"t":"d","g":"+/-","x":130,"y":640},{"t":"d","g":"+/-","x":165,"y":635},{"t":"d","g":"+/-","x":110,"y":615},{"t":"d","g":"+/-","x":135,"y":605},{"t":"d","g":"+/-","x":90,"y":590},{"t":"d","g":"+/-","x":110,"y":570},{"t":"d","g":"+/-","x":70,"y":560},{"t":"d","g":"+/-","x":88,"y":545},{"t":"d","g":"+/-","x":50,"y":530},{"t":"d","g":"+/-","x":75,"y":515},{"t":"d","g":"+/-","x":35,"y":500},{"t":"d","g":"+/-","x":60,"y":490},{"t":"d","g":"+/-","x":40,"y":470},{"t":"d","g":"+/-","x":25,"y":450},{"t":"d","g":"+/-","x":45,"y":420},
{"t":"d","g":"+/-","x":40,"y":400},{"t":"d","g":"+/-","x":60,"y":375},{"t":"d","g":"+/-","x":30,"y":360},{"t":"d","g":"+/-","x":80,"y":350},{"t":"d","g":"+/-","x":55,"y":335},{"t":"d","g":"+/-","x":100,"y":325},{"t":"d","g":"+/-","x":75,"y":310},{"t":"d","g":"+/-","x":125,"y":305},{"t":"d","g":"+/-","x":100,"y":290},{"t":"d","g":"+/-","x":150,"y":290},{"t":"d","g":"+/-","x":130,"y":270},{"t":"d","g":"+/-","x":180,"y":270},{"t":"d","g":"+/-","x":160,"y":250},{"t":"d","g":"+/-","x":210,"y":255},{"t":"d","g":"+/-","x":200,"y":230},{"t":"d","g":"+/-","x":240,"y":230},{"t":"d","g":"+/-","x":230,"y":205},{"t":"d","g":"+/-","x":270,"y":205},{"t":"d","g":"+/-","x":300,"y":180},
{"t":"d","g":"+/-","x":410,"y":760},{"t":"d","g":"+/-","x":445,"y":735},{"t":"d","g":"+/-","x":470,"y":720},{"t":"d","g":"+/-","x":500,"y":725},{"t":"d","g":"+/-","x":530,"y":705},{"t":"d","g":"+/-","x":560,"y":690},{"t":"d","g":"+/-","x":520,"y":740},{"t":"d","g":"+/-","x":590,"y":665},{"t":"d","g":"+/-","x":575,"y":705},{"t":"d","g":"+/-","x":610,"y":640},{"t":"d","g":"+/-","x":630,"y":610},{"t":"d","g":"+/-","x":612,"y":595},{"t":"d","g":"+/-","x":645,"y":580},{"t":"d","g":"+/-","x":625,"y":550},{"t":"d","g":"+/-","x":660,"y":540},{"t":"d","g":"+/-","x":650,"y":500},{"t":"d","g":"+/-","x":680,"y":510},{"t":"d","g":"+/-","x":670,"y":470},{"t":"d","g":"+/-","x":700,"y":450},{"t":"d","g":"+/-","x":685,"y":420},{"t":"d","g":"+/-","x":710,"y":400},{"t":"d","g":"+/-","x":690,"y":370},{"t":"d","g":"+/-","x":720,"y":350},{"t":"d","g":"+/-","x":695,"y":320},{"t":"d","g":"+/-","x":675,"y":280},
{"t":"d","g":"+/-","x":330,"y":175},{"t":"d","g":"+/-","x":360,"y":160},{"t":"d","g":"+/-","x":390,"y":185},{"t":"d","g":"+/-","x":420,"y":170},{"t":"d","g":"+/-","x":450,"y":190},{"t":"d","g":"+/-","x":480,"y":200},{"t":"d","g":"+/-","x":510,"y":185},{"t":"d","g":"+/-","x":540,"y":200},{"t":"d","g":"+/-","x":570,"y":210},{"t":"d","g":"+/-","x":600,"y":220},{"t":"d","g":"+/-","x":630,"y":235},{"t":"d","g":"+/-","x":660,"y":240},{"t":"d","g":"+/-","x":620,"y":200},{"t":"d","g":"+/-","x":580,"y":180},{"t":"d","g":"+/-","x":550,"y":160},{"t":"d","g":"+/-","x":520,"y":150},{"t":"d","g":"+/-","x":490,"y":170},{"t":"d","g":"+/-","x":460,"y":145},{"t":"d","g":"+/-","x":430,"y":130},{"t":"d","g":"+/-","x":400,"y":140},{"t":"d","g":"+/-","x":370,"y":120},{"t":"d","g":"+/-","x":340,"y":100},{"t":"d","g":"+/-","x":310,"y":140},{"t":"d","g":"+/-","x":280,"y":160},{"t":"d","g":"+/-","x":260,"y":120},{"t":"d","g":"+/-","x":300,"y":80},{"t":"d","g":"+/-","x":350,"y":70},{"t":"d","g":"+/-","x":390,"y":90},{"t":"d","g":"+/-","x":420,"y":60},{"t":"d","g":"+/-","x":450,"y":100},{"t":"d","g":"+/-","x":480,"y":80},{"t":"d","g":"+/-","x":510,"y":110},{"t":"d","g":"+/-","x":540,"y":90},{"t":"d","g":"+/-","x":570,"y":120},{"t":"d","g":"+/-","x":600,"y":150},{"t":"d","g":"+/-","x":640,"y":160},{"t":"d","g":"+/-","x":660,"y":110},{"t":"d","g":"+/-","x":590,"y":60},{"t":"d","g":"+/-","x":500,"y":40},{"t":"d","g":"+/-","x":440,"y":30},{"t":"d","g":"+/-","x":380,"y":40},{"t":"d","g":"+/-","x":230,"y":140},{"t":"d","g":"+/-","x":250,"y":80},{"t":"d","g":"+/-","x":620,"y":80},
{"t":"r","g":"+/+","x":9,"x2":455,"y":537,"y2":791},{"t":"r","g":"+/+","x":437,"x2":789,"y":20,"y2":487},
{"t":"r","g":"+/-","x":9,"x2":455,"y":537,"y2":791},{"t":"r","g":"+/-","x":437,"x2":789,"y":20,"y2":487},
{"t":"ul","g":"+/+","s":"40.7","x":22,"y":735},{"t":"lr","g":"+/+","s":"21.1","x":777,"y":35},
{"t":"ul","g":"+/-","s":"23.5","x":25,"y":732},{"t":"lr","g":"+/-","s":"22.5","x":777,"y":35},
{"t":"h","g":"+/+","s":"Tcf4","sup":"+/+","x":465,"y":824},{"t":"h","g":"+/-","s":"Tcf4","sup":"+/-","x":462,"y":824},
{"t":"a","g":"+/+","x":-40.5,"x2":-40.5,"y":-29.5,"y2":557},{"t":"a","g":"+/+","x":-40.5,"x2":1372,"y":-29.5,"y2":-29.5},
{"t":"au","g":"+/+","x":-40.5,"y":557},{"t":"ar","g":"+/+","x":1372,"y":-29.5},
{"t":"yl","g":"+/+","s":"B220","x":-15,"y":733},{"t":"xl","g":"+/+","s":"CD11b","x":1416,"y":-55}
]},
"facet":{"column":{"field":"g","type":"nominal","header":null,"sort":["+/+","+/-"]}},
"spacing":19,
"bounds":"flush",
"resolve":{"axis":{"x":"independent","y":"independent"}},
"spec":{
"width":260,"height":257,
"encoding":{
"x":{"field":"x","type":"quantitative","scale":{"domain":[9,789],"nice":false,"zero":false},"axis":{"title":null,"orient":"bottom","values":[54.2,85.9,108.4,125.8,140.1,152.1,162.6,171.8,180,234.2,265.9,288.4,305.8,320.1,332.1,342.6,351.8,360,414.2,445.9,468.4,485.8,500.1,512.1,522.6,531.8,540,594.2,625.9,648.4,665.8,680.1,692.1,702.6,711.8,720,774.2],"tickSize":{"condition":{"test":"datum.value % 180 === 0","value":6},"value":3.5}}},
"y":{"field":"y","type":"quantitative","scale":{"domain":[20,791],"nice":false,"zero":false},"axis":{"title":null,"orient":"left","values":[54.2,85.9,108.4,125.8,140.1,152.1,162.6,171.8,180,234.2,265.9,288.4,305.8,320.1,332.1,342.6,351.8,360,414.2,445.9,468.4,485.8,500.1,512.1,522.6,531.8,540,594.2,625.9,648.4,665.8,680.1,692.1,702.6,711.8,720,774.2],"tickSize":{"condition":{"test":"datum.value % 180 === 0","value":6},"value":3.5}}}
},
"layer":[
{"transform":[{"filter":"datum.t==='d'"}],"mark":{"type":"point","shape":"circle","filled":true,"size":3.5,"color":"#222","opacity":0.8}},
{"transform":[{"filter":"datum.t==='c'"}],"mark":{"type":"line","interpolate":"cardinal-closed","color":"#000","strokeWidth":1.9,"clip":true},"encoding":{"detail":{"field":"k","type":"nominal"},"order":{"field":"i","type":"quantitative"}}},
{"transform":[{"filter":"datum.t==='r'"}],"mark":{"type":"rect","filled":false,"color":"#222","strokeWidth":1},"encoding":{"x2":{"field":"x2"},"y2":{"field":"y2"}}},
{"transform":[{"filter":"datum.t==='ul'"}],"mark":{"type":"text","align":"left","baseline":"alphabetic","font":"Liberation Sans","fontSize":21,"fontWeight":"bold","color":"#000"},"encoding":{"text":{"field":"s"}}},
{"transform":[{"filter":"datum.t==='lr'"}],"mark":{"type":"text","align":"right","baseline":"alphabetic","font":"Liberation Sans","fontSize":21,"fontWeight":"bold","color":"#000"},"encoding":{"text":{"field":"s"}}},
{"transform":[{"filter":"datum.t==='h'"}],"mark":{"type":"text","align":"right","baseline":"alphabetic","font":"Liberation Sans","fontSize":29,"fontStyle":"italic","fontWeight":"bold","color":"#000"},"encoding":{"text":{"field":"s"}}},
{"transform":[{"filter":"datum.t==='h'"}],"mark":{"type":"text","align":"left","baseline":"alphabetic","dx":1,"dy":-11,"font":"Liberation Sans","fontSize":20,"fontStyle":"italic","fontWeight":"bold","color":"#000"},"encoding":{"text":{"field":"sup"}}},
{"transform":[{"filter":"datum.t==='a'"}],"mark":{"type":"rule","color":"#000","strokeWidth":2.6,"strokeCap":"square"},"encoding":{"x2":{"field":"x2"},"y2":{"field":"y2"}}},
{"transform":[{"filter":"datum.t==='au'"}],"mark":{"type":"point","shape":"M0,-1L0.75,1L-0.75,1Z","size":324,"filled":true,"color":"#000","opacity":1}},
{"transform":[{"filter":"datum.t==='ar'"}],"mark":{"type":"point","shape":"M1,0L-1,-0.6L-1,0.6Z","size":625,"filled":true,"color":"#000","opacity":1}},
{"transform":[{"filter":"datum.t==='yl'"}],"mark":{"type":"text","angle":270,"align":"center","baseline":"alphabetic","font":"Liberation Sans","fontSize":22,"fontWeight":"bold","color":"#000"},"encoding":{"text":{"field":"s"}}},
{"transform":[{"filter":"datum.t==='xl'"}],"mark":{"type":"text","align":"left","baseline":"alphabetic","font":"Liberation Sans","fontSize":26,"fontWeight":"bold","color":"#000"},"encoding":{"text":{"field":"s"}}}
]
},
"config":{"view":{"stroke":"#000","strokeWidth":1.5},"axis":{"domain":false,"labels":false,"grid":false,"tickColor":"#000","tickWidth":1},"font":"Liberation Sans"}
}
